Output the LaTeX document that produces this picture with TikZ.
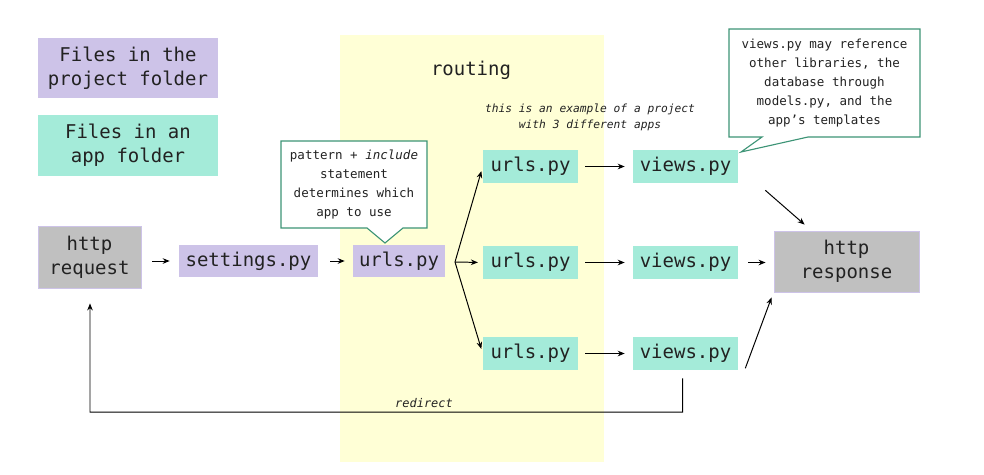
\documentclass[tikz,border=0pt]{standalone}
\usepackage{fontspec}
\setmonofont{DejaVu Sans Mono}
\usetikzlibrary{arrows.meta}
\definecolor{projcol}{RGB}{205,195,232}
\definecolor{appcol}{RGB}{164,235,217}
\definecolor{httpcol}{RGB}{192,192,192}
\definecolor{routecol}{RGB}{255,255,214}
\definecolor{notecol}{RGB}{61,148,118}
\definecolor{txtcol}{RGB}{34,34,34}
\begin{document}
\begin{tikzpicture}[x=0.025cm,y=-0.025cm,font=\ttfamily,text=txtcol]
        \tikzset{box/.style={inner sep=0pt, align=center, font=\ttfamily\fontsize{13.5}{17}\selectfont},
          proj node/.style={box, fill=projcol},
          app node/.style={box, fill=appcol, minimum width=2.375cm, minimum height=0.825cm},
          view node/.style={app node, minimum width=2.625cm},
          http node/.style={box, fill=httpcol, draw=projcol, line width=0.6pt},
          arr/.style={-{Stealth[length=5pt,width=4pt]}, line width=0.7pt, black},
          callout/.style={draw=notecol, fill=white, line width=0.8pt},
          note/.style={align=center, font=\ttfamily\fontsize{8.9}{13.5}\selectfont}}
        \useasboundingbox (0,0) rectangle (984,474);
        % routing band
        \fill[routecol] (340,35) rectangle (604,462);
        \node[font=\ttfamily\fontsize{13.5}{17}\selectfont] (routing) at (471,70) {routing};
        \node[note, font=\ttfamily\itshape\fontsize{8}{11.5}\selectfont] (example) at (590,117) {this is an example of a project\\with 3 different apps};
        % legend
        \node[proj node, minimum width=4.5cm, minimum height=1.5cm] (legproj) at (128,68) {Files in the\\project folder};
        \node[box, fill=appcol, minimum width=4.5cm, minimum height=1.525cm] (legapp) at (128,145.5) {Files in an\\app folder};
        % main flow
        \node[http node, minimum width=2.575cm, minimum height=1.55cm] (request) at (89.5,257) {http\\request};
        \node[proj node, minimum width=3.475cm, minimum height=0.8cm] (settings) at (248.5,261) {settings.py};
        \node[proj node, minimum width=2.3cm, minimum height=0.8cm] (urls) at (399,261) {urls.py};
        \node[app node] (urlsA) at (530.5,166.5) {urls.py};
        \node[app node] (urlsB) at (530.5,262.5) {urls.py};
        \node[app node] (urlsC) at (530.5,353.5) {urls.py};
        \node[view node] (viewsA) at (685.5,166.5) {views.py};
        \node[view node] (viewsB) at (685.5,262.5) {views.py};
        \node[view node] (viewsC) at (685.5,353.5) {views.py};
        \node[http node, minimum width=3.625cm, minimum height=1.525cm] (response) at (846.5,261.5) {http\\response};
        % callouts
        \draw[callout] (281,141) -- (427,141) -- (427,228) -- (403,228) -- (385,243) -- (367,228) -- (281,228) -- cycle;
        \node[note] (includenote) at (354,184.5) {pattern + \textit{include}\\statement\\determines which\\app to use};
        \draw[callout] (729,29) -- (920,29) -- (920,137) -- (808,137) -- (741,152) -- (762,137) -- (729,137) -- cycle;
        \node[note] (viewsnote) at (824.5,83) {views.py may reference\\other libraries, the\\database through\\models.py, and the\\app’s templates};
        % connectors
        \draw[arr, shorten <=0.275cm, shorten >=0.225cm] (request.east |- settings) -- (settings);
        \draw[arr, shorten <=0.3cm, shorten >=0.2cm] (settings) -- (urls);
        \coordinate (fork) at (455,262);
        \foreach \app in {A,B,C}{
          \draw[arr, shorten >=0.12cm] (fork) -- (urls\app.west);
          \draw[arr, shorten <=0.175cm, shorten >=0.2cm] (urls\app) -- (views\app);
        }
        \draw[arr] ([shift={(27,7)}]viewsA.south east) -- ([shift={(31,-6)}]response.north west);
        \draw[arr, shorten <=0.25cm, shorten >=0.2cm] (viewsB) -- (viewsB -| response.west);
        \draw[arr] ([shift={(7,-2)}]viewsC.south east) -- ([shift={(-2,5)}]response.south west);
        % redirect
        \coordinate (turn) at (90,412);
        \draw[arr] ([shift={(-3,8)}]viewsC.south) |- (turn) -- ([shift={(0.5,15)}]request.south);
        \node[font=\ttfamily\itshape\fontsize{8.5}{10}\selectfont] (redirect) at (424,403) {redirect};
      \end{tikzpicture}
\end{document}
